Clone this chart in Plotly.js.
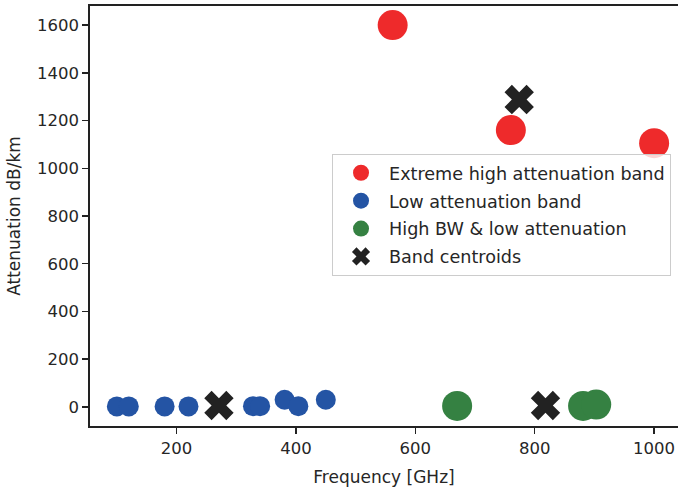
<!DOCTYPE html>
<html>
<head>
<meta charset="utf-8">
<script src="https://cdn.plot.ly/plotly-3.0.1.min.js"></script>
<style>html,body{margin:0;padding:0;background:#fff;}#chart{width:678px;height:488px;}</style>
</head>
<body>
<div id="chart"></div>
<script>
// Data
const extremeFreq = [562, 760, 1000];
const extremeAtt = [1600, 1160, 1105];
const lowFreq = [100, 120, 180, 220, 328, 340, 381, 404, 450];
const lowAtt = [2, 2, 2, 2, 3, 3, 30, 3, 30];
const highBwFreq = [670, 881, 903];
const highBwAtt = [4, 4, 10];
const centroidFreq = [774, 271, 818];
const centroidAtt = [1288, 6, 6];
const seriesNames = ["Extreme high attenuation band", "Low attenuation band", "High BW & low attenuation", "Band centroids"];
const xTicks = [200, 400, 600, 800, 1000];
const yTicks = [0, 200, 400, 600, 800, 1000, 1200, 1400, 1600];

const font = "DejaVu Sans, sans-serif";
const traces = [
  {x: extremeFreq, y: extremeAtt, name: seriesNames[0], legendgroup: "a", mode: "markers", type: "scatter",
   marker: {color: "#ee2a2b", size: 30, line: {width: 0}}},
  {x: lowFreq, y: lowAtt, name: seriesNames[1], legendgroup: "b", mode: "markers", type: "scatter",
   marker: {color: "#2454a4", size: 20, line: {width: 0}}},
  {x: highBwFreq, y: highBwAtt, name: seriesNames[2], legendgroup: "c", mode: "markers", type: "scatter",
   marker: {color: "#358142", size: 30, line: {width: 0}}},
  {x: centroidFreq, y: centroidAtt, name: seriesNames[3], legendgroup: "d", mode: "markers", type: "scatter",
   marker: {color: "#222222", size: 26, symbol: "x", line: {width: 0}}}
];
const layout = {
  width: 678, height: 488,
  margin: {l: 90, r: 0, t: 6, b: 62},
  paper_bgcolor: "#ffffff", plot_bgcolor: "#ffffff",
  font: {family: font, size: 16, color: "#262626"},
  showlegend: true,
  legend: {x: 0.4116, y: 0.648, xanchor: "left", yanchor: "top",
    bgcolor: "rgba(255,255,255,0.8)", bordercolor: "#cccccc", borderwidth: 1,
    font: {family: font, size: 17.6, color: "#262626"}, tracegroupgap: 2, itemsizing: "trace", itemwidth: 46},
  xaxis: {range: [55, 1040], tickvals: xTicks, ticktext: xTicks.map(String),
    showgrid: false, zeroline: false, showline: true, linecolor: "#222222", linewidth: 1.8,
    mirror: true, ticks: "outside", ticklen: 6, tickwidth: 1.5, tickcolor: "#222222",
    tickfont: {family: font, size: 16.5, color: "#262626"},
    title: {text: "Frequency [GHz]", font: {family: font, size: 17, color: "#262626"}, standoff: 14}},
  yaxis: {range: [-80, 1680], tickvals: yTicks, ticktext: yTicks.map(String),
    showgrid: false, zeroline: false, showline: true, linecolor: "#222222", linewidth: 1.8,
    mirror: false, ticks: "outside", ticklen: 6, tickwidth: 1.5, tickcolor: "#222222",
    tickfont: {family: font, size: 16.5, color: "#262626"},
    title: {text: "Attenuation dB/km", font: {family: font, size: 17, color: "#262626"}, standoff: 12}}
};
Plotly.newPlot("chart", traces, layout, {displayModeBar: false, staticPlot: true});
</script>
</body>
</html>
